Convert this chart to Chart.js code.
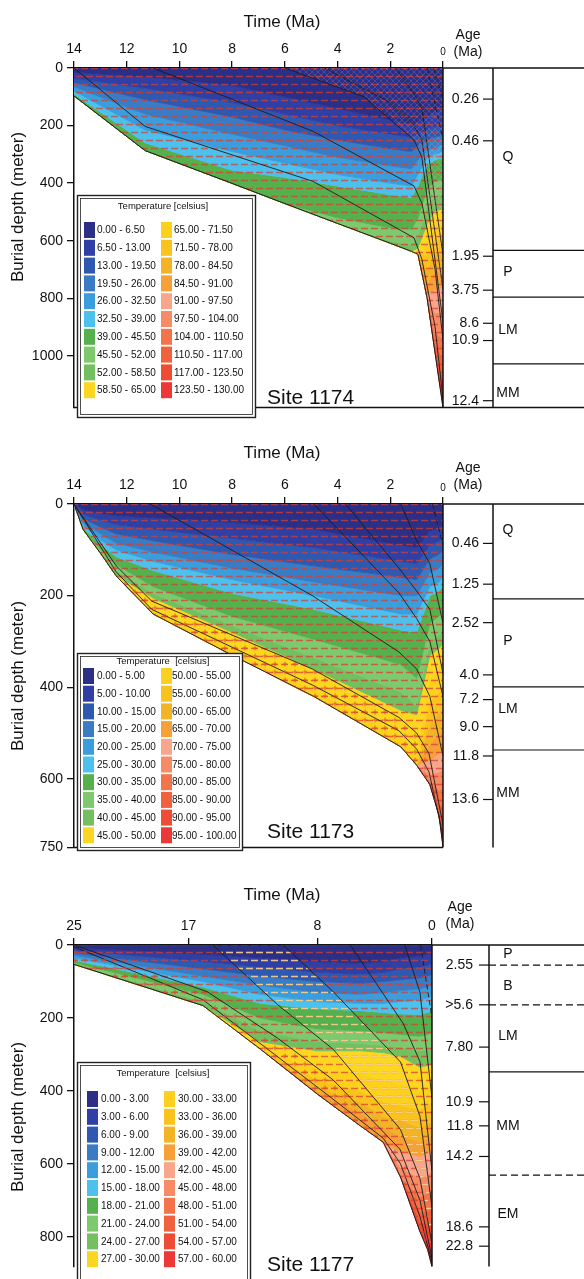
<!DOCTYPE html>
<html>
<head>
<meta charset="utf-8">
<script src="https://cdn.jsdelivr.net/npm/chart.js@4.4.1/dist/chart.umd.min.js"></script>
<style>
html, body { margin: 0; padding: 0; background: #fff; }
body { width: 584px; height: 1279px; position: relative; overflow: hidden; }
canvas { position: absolute; left: 0; }
</style>
</head>
<body>
<canvas id="site1174" width="584" height="420" style="top:0px"></canvas>
<canvas id="site1173" width="584" height="440" style="top:420px"></canvas>
<canvas id="site1177" width="584" height="419" style="top:860px"></canvas>
<script>
'use strict';

// ================================================================
//  Shared
// ================================================================
var FONT = '"Liberation Sans", Arial, Helvetica, sans-serif';
var tempColors = ['#2b2f86', '#2f3fa3', '#2f58b0', '#3a7cc3', '#3b9ddb', '#4dc0ec', '#56b04e', '#7ec86d', '#74bf60', '#fcd621',
                  '#fdd01e', '#f9c21c', '#f3b326', '#f6a038', '#f7a68c', '#f68b66', '#f3744b', '#f0613d', '#ee4c34', '#ec3837'];

// ================================================================
//  Site 1174  (time in Ma, depth in m)
// ================================================================
var xTicks1174 = [14, 12, 10, 8, 6, 4, 2, 0];
var yTicks1174 = [0, 200, 400, 600, 800, 1000];
var time1174 = [14, 11.3, 8, 6, 4, 2, 1.2, 0.95, 0.6, 0.3, 0];
var base1174 = [97, 287, 401, 471, 540, 609, 637, 647, 800, 990, 1180];
// isotherm depths, one row per band boundary (6.5, 13, ... 123.5 C)
var iso1174 = [
    [15, 30, 60, 100, 140, 180, 195, 190, 170, 150, 140],
    [35, 70, 120, 160, 200, 230, 240, 230, 215, 205, 200],
    [50, 110, 170, 215, 250, 280, 290, 270, 250, 240, 235],
    [65, 160, 230, 270, 310, 340, 350, 320, 285, 275, 265],
    [80, 215, 290, 330, 370, 400, 410, 370, 310, 300, 290],
    [90, 260, 355, 380, 410, 440, 450, 410, 335, 320, 310],
    [97, 287, 401, 471, 520, 555, 560, 520, 420, 395, 385],
    [97, 287, 401, 471, 540, 600, 615, 580, 480, 445, 435],
    [97, 287, 401, 471, 540, 609, 637, 625, 540, 495, 490],
    [97, 287, 401, 471, 540, 609, 637, 647, 600, 550, 540],
    [97, 287, 401, 471, 540, 609, 637, 647, 650, 600, 590],
    [97, 287, 401, 471, 540, 609, 637, 647, 700, 650, 640],
    [97, 287, 401, 471, 540, 609, 637, 647, 750, 705, 700],
    [97, 287, 401, 471, 540, 609, 637, 647, 790, 770, 760],
    [97, 287, 401, 471, 540, 609, 637, 647, 800, 850, 850],
    [97, 287, 401, 471, 540, 609, 637, 647, 800, 920, 940],
    [97, 287, 401, 471, 540, 609, 637, 647, 800, 960, 1010],
    [97, 287, 401, 471, 540, 609, 637, 647, 800, 980, 1080],
    [97, 287, 401, 471, 540, 609, 637, 647, 800, 988, 1130]
];
var bands1174 = ['0.00 - 6.50', '6.50 - 13.00', '13.00 - 19.50', '19.50 - 26.00', '26.00 - 32.50', '32.50 - 39.00',
                 '39.00 - 45.50', '45.50 - 52.00', '52.00 - 58.50', '58.50 - 65.00', '65.00 - 71.50', '71.50 - 78.00',
                 '78.00 - 84.50', '84.50 - 91.00', '91.00 - 97.50', '97.50 - 104.00', '104.00 - 110.50', '110.50 - 117.00',
                 '117.00 - 123.50', '123.50 - 130.00'];
// burial curves of horizons, [time, depth]
var lines1174 = [
    [[14, 0], [11.3, 203], [4.93, 394], [1.1, 590], [0.8, 665], [0.3, 900], [0, 1150]],
    [[11, 0], [4.93, 220], [1.1, 410], [0.8, 470], [0.3, 700], [0, 945]],
    [[6, 0], [3, 100], [1.1, 250], [0.8, 310], [0, 885]],
    [[4.5, 0], [2, 120], [1.1, 200], [0.8, 250], [0, 770]],
    [[1.8, 0], [1.1, 90], [0.8, 140], [0, 650]],
    [[0.6, 0], [0, 250]],
    [[0.35, 0], [0, 108]]
];
var ageText1174 = ['0.26', '0.46', '1.95', '3.75', '8.6', '10.9', '12.4'];
var ageDepth1174 = [108, 253, 654, 772, 887, 947, 1156];
var unitText1174 = ['Q', 'P', 'LM', 'MM'];
var unitMid1174 = [310, 708, 910, 1130];
var unitEdge1174 = [634, 796, 1028];
var unitDash1174 = [false, false, false];

// ================================================================
//  Site 1173
// ================================================================
var xTicks1173 = [14, 12, 10, 8, 6, 4, 2, 0];
var yTicks1173 = [0, 200, 400, 600, 750];
var time1173 = [14, 13.65, 13, 12.4, 11, 8, 4.9, 1.6, 1.0, 0.5, 0.15, 0];
var base1173 = [0, 56, 107, 157, 240, 330, 420, 530, 570, 612, 680, 748];
var iso1173 = [
    [0, 12, 20, 25, 30, 40, 55, 90, 95, 60, 50, 45],
    [0, 22, 35, 45, 55, 75, 95, 125, 130, 90, 80, 75],
    [0, 32, 50, 65, 80, 110, 135, 160, 165, 120, 110, 100],
    [0, 40, 65, 85, 105, 140, 170, 200, 200, 150, 140, 130],
    [0, 46, 78, 100, 125, 165, 200, 240, 240, 180, 170, 160],
    [0, 52, 88, 115, 145, 195, 230, 275, 280, 200, 190, 180],
    [0, 55, 98, 132, 180, 245, 295, 350, 380, 260, 245, 235],
    [0, 56, 104, 145, 195, 265, 335, 410, 440, 300, 285, 275],
    [0, 56, 107, 155, 205, 280, 360, 450, 460, 330, 315, 305],
    [0, 56, 107, 157, 230, 320, 405, 510, 545, 380, 360, 350],
    [0, 56, 107, 157, 240, 330, 420, 530, 570, 430, 410, 400],
    [0, 56, 107, 157, 240, 330, 420, 530, 570, 480, 455, 445],
    [0, 56, 107, 157, 240, 330, 420, 530, 570, 525, 500, 490],
    [0, 56, 107, 157, 240, 330, 420, 530, 570, 560, 545, 535],
    [0, 56, 107, 157, 240, 330, 420, 530, 570, 590, 585, 580],
    [0, 56, 107, 157, 240, 330, 420, 530, 570, 605, 625, 620],
    [0, 56, 107, 157, 240, 330, 420, 530, 570, 612, 655, 660],
    [0, 56, 107, 157, 240, 330, 420, 530, 570, 612, 675, 700],
    [0, 56, 107, 157, 240, 330, 420, 530, 570, 612, 680, 725]
];
var bands1173 = ['0.00 - 5.00', '5.00 - 10.00', '10.00 - 15.00', '15.00 - 20.00', '20.00 - 25.00', '25.00 - 30.00',
                 '30.00 - 35.00', '35.00 - 40.00', '40.00 - 45.00', '45.00 - 50.00', '50.00 - 55.00', '55.00 - 60.00',
                 '60.00 - 65.00', '65.00 - 70.00', '70.00 - 75.00', '75.00 - 80.00', '80.00 - 85.00', '85.00 - 90.00',
                 '90.00 - 95.00', '95.00 - 100.00'];
var lines1173 = [
    [[14, 0], [12.4, 135], [11.05, 212], [4.96, 360], [1.67, 466], [1.0, 500], [0.53, 545], [0, 700]],
    [[14, 0], [12.4, 148], [11.05, 230], [4.96, 395], [1.67, 495], [1.0, 535], [0.53, 585], [0, 725]],
    [[11.1, 0], [4.96, 200], [1.67, 323], [1.0, 360], [0.5, 420], [0, 550]],
    [[4.9, 0], [1.67, 194], [1.0, 250], [0.5, 300], [0, 420]],
    [[3.7, 0], [1.67, 140], [1.0, 190], [0.5, 230], [0, 370]],
    [[1.6, 0], [1.0, 80], [0.5, 130], [0, 260]],
    [[0.4, 0], [0, 90]]
];
var ageText1173 = ['0.46', '1.25', '2.52', '4.0', '7.2', '9.0', '11.8', '13.6'];
var ageDepth1173 = [86, 175, 259, 373, 427, 486, 550, 645];
var unitText1173 = ['Q', 'P', 'LM', 'MM'];
var unitMid1173 = [56, 300, 447, 632];
var unitEdge1173 = [207, 399, 537];
var unitDash1173 = [false, false, false];

// ================================================================
//  Site 1177
// ================================================================
var xTicks1177 = [25, 17, 8, 0];
var yTicks1177 = [0, 200, 400, 600, 800];
var time1177 = [25, 16, 12, 8, 5, 3.4, 2.2, 0.84, 0.3, 0];
var base1177 = [53, 166, 285, 409, 496, 541, 636, 786, 836, 882];
var iso1177 = [
    [8, 25, 35, 45, 50, 45, 35, 30, 25, 20],
    [15, 45, 60, 75, 80, 75, 65, 60, 55, 50],
    [22, 65, 85, 100, 105, 100, 95, 90, 85, 80],
    [28, 85, 110, 130, 135, 130, 125, 120, 115, 110],
    [35, 100, 135, 155, 160, 160, 155, 150, 145, 140],
    [42, 115, 160, 175, 180, 185, 189, 190, 185, 180],
    [48, 135, 200, 230, 235, 240, 245, 250, 245, 240],
    [52, 155, 235, 265, 270, 275, 280, 290, 285, 280],
    [53, 166, 265, 290, 290, 295, 305, 335, 330, 325],
    [53, 166, 285, 340, 350, 370, 380, 400, 390, 380],
    [53, 166, 285, 370, 400, 430, 440, 450, 440, 430],
    [53, 166, 285, 391, 430, 470, 480, 500, 490, 480],
    [53, 166, 285, 400, 460, 500, 523, 540, 530, 520],
    [53, 166, 285, 409, 496, 541, 567, 580, 570, 560],
    [53, 166, 285, 409, 496, 541, 610, 640, 630, 620],
    [53, 166, 285, 409, 496, 541, 636, 690, 680, 670],
    [53, 166, 285, 409, 496, 541, 636, 730, 730, 720],
    [53, 166, 285, 409, 496, 541, 636, 760, 770, 770],
    [53, 166, 285, 409, 496, 541, 636, 786, 810, 820]
];
var bands1177 = ['0.00 - 3.00', '3.00 - 6.00', '6.00 - 9.00', '9.00 - 12.00', '12.00 - 15.00', '15.00 - 18.00',
                 '18.00 - 21.00', '21.00 - 24.00', '24.00 - 27.00', '27.00 - 30.00', '30.00 - 33.00', '33.00 - 36.00',
                 '36.00 - 39.00', '39.00 - 42.00', '42.00 - 45.00', '45.00 - 48.00', '48.00 - 51.00', '51.00 - 54.00',
                 '54.00 - 57.00', '57.00 - 60.00'];
var lines1177 = [
    [[25, 0], [15.7, 128], [10.8, 255], [6.9, 370], [2.24, 560], [0.84, 700], [0, 860]],
    [[25, 5], [16, 150], [11, 300], [7, 420], [3.4, 530], [2.2, 600], [0.84, 745], [0, 870]],
    [[15.3, 0], [10.8, 163], [6.9, 286], [2.2, 506], [0.84, 640], [0, 820]],
    [[15.3, 0], [10.4, 0], [6.9, 128], [2.2, 321], [0.84, 470], [0, 720]],
    [[5.7, 0], [2.0, 216], [0.84, 320], [0, 620]],
    [[1.9, 0], [0.84, 130], [0, 420]],
    [[0.8, 0], [0, 200]]
];
var ageText1177 = ['2.55', '>5.6', '7.80', '10.9', '11.8', '14.2', '18.6', '22.8'];
var ageDepth1177 = [55, 164, 280, 430, 496, 580, 773, 826];
var unitText1177 = ['P', 'B', 'LM', 'MM', 'EM'];
var unitMid1177 = [26, 113, 251, 496, 739];
var unitEdge1177 = [55, 164, 348, 631];
var unitDash1177 = [true, true, false, true];

// ================================================================
//  Patterns (lithology hatching)
// ================================================================
function makeDashPattern(color) {
    var c = document.createElement('canvas');
    c.width = 20; c.height = 16;
    var g = c.getContext('2d');
    g.strokeStyle = color;
    g.lineWidth = 1.3;
    g.beginPath();
    g.moveTo(1, 4.5); g.lineTo(8, 4.5);
    g.moveTo(11, 4.5); g.lineTo(18, 4.5);
    g.moveTo(6, 12.5); g.lineTo(13, 12.5);
    g.moveTo(16, 12.5); g.lineTo(20, 12.5);
    g.moveTo(0, 12.5); g.lineTo(3, 12.5);
    g.stroke();
    return g.createPattern(c, 'repeat');
}

function makeHatchPattern() {
    var c = document.createElement('canvas');
    c.width = 6; c.height = 6;
    var g = c.getContext('2d');
    g.strokeStyle = 'rgba(225,190,210,0.3)';
    g.lineWidth = 0.6;
    g.beginPath();
    g.moveTo(0, 0); g.lineTo(6, 6);
    g.moveTo(6, 0); g.lineTo(0, 6);
    g.stroke();
    return g.createPattern(c, 'repeat');
}

function makeCrossPattern() {
    var c = document.createElement('canvas');
    c.width = 10; c.height = 8;
    var g = c.getContext('2d');
    g.strokeStyle = 'rgba(220,70,50,0.75)';
    g.lineWidth = 1;
    g.beginPath();
    g.moveTo(5, 1.5); g.lineTo(5, 6.5);
    g.moveTo(2.5, 4); g.lineTo(7.5, 4);
    g.stroke();
    return g.createPattern(c, 'repeat');
}

var dashPattern = makeDashPattern('rgba(214,62,50,0.72)');
var paleDashPattern = makeDashPattern('rgba(255,240,160,0.75)');
var hatchPattern = makeHatchPattern();
var crossPattern = makeCrossPattern();

function toPoints(times, depths) {
    return times.map(function (t, i) { return { x: t, y: depths[i] }; });
}

// ================================================================
//  Decorations: titles, legend box, age / stratigraphy column
// ================================================================
function drawDecor(chart, p) {
    var ctx = chart.ctx, a = chart.chartArea, ys = chart.scales.y, W = chart.width;
    function seg(x1, y1, x2, y2) { ctx.beginPath(); ctx.moveTo(x1, y1); ctx.lineTo(x2, y2); ctx.stroke(); }

    ctx.save();
    ctx.strokeStyle = '#111';
    ctx.fillStyle = '#111';
    ctx.lineWidth = 1.5;
    seg(a.right, a.top, a.right, a.bottom);
    seg(a.right, a.top, W, a.top);
    if (p.bottomTo) seg(a.left, a.bottom, p.bottomTo, a.bottom);
    seg(p.colX, a.top, p.colX, a.bottom);

    // age ticks
    ctx.lineWidth = 1.2;
    ctx.font = '14px ' + FONT;
    ctx.textAlign = 'right';
    ctx.textBaseline = 'middle';
    p.ageText.forEach(function (s, i) {
        var y = ys.getPixelForValue(p.ageDepth[i]);
        seg(p.colX - 10, y, p.colX, y);
        ctx.fillText(s, p.colX - p.ageGap, y);
    });
    p.unitEdge.forEach(function (d, i) {
        var y = ys.getPixelForValue(d);
        ctx.setLineDash(p.unitDash[i] ? [7, 4] : []);
        seg(p.colX, y, W, y);
    });
    ctx.setLineDash([]);
    ctx.textAlign = 'center';
    p.unitText.forEach(function (s, i) {
        ctx.fillText(s, 508, ys.getPixelForValue(p.unitMid[i]));
    });

    // headers
    ctx.fillText('Age', p.ageX, p.ageY);
    ctx.fillText('(Ma)', p.ageX, p.ageY + 17);
    ctx.font = '17px ' + FONT;
    ctx.fillText('Time (Ma)', 282, p.titleY);
    ctx.save();
    ctx.translate(18, p.yTitleY);
    ctx.rotate(-Math.PI / 2);
    ctx.fillText('Burial depth (meter)', 0, 0);
    ctx.restore();

    // legend
    var L = p.legend;
    ctx.fillStyle = '#fff';
    ctx.fillRect(L.x, L.y, L.w, L.h);
    ctx.strokeStyle = '#222';
    ctx.lineWidth = 1.4;
    ctx.strokeRect(L.x + 0.5, L.y + 0.5, L.w, L.h);
    ctx.lineWidth = 0.8;
    ctx.strokeRect(L.x + 3.5, L.y + 3.5, L.w - 6, L.h - 6);
    ctx.fillStyle = '#111';
    ctx.font = '9.5px ' + FONT;
    ctx.textAlign = 'center';
    ctx.fillText(p.legendTitle, L.titleX, L.y + L.titleDy);
    ctx.font = '10px ' + FONT;
    ctx.textAlign = 'left';
    p.bands.forEach(function (s, i) {
        var col = i < 10 ? 0 : 1;
        var y = L.y + L.rowDy + (i % 10) * L.rowH;
        ctx.fillStyle = tempColors[i];
        ctx.fillRect(L.sw[col], y - 8, 11, 16);
        ctx.fillStyle = '#111';
        ctx.fillText(s, L.tx[col], y + 0.5);
    });

    // site label
    ctx.font = '21px ' + FONT;
    ctx.fillText(p.site, 267, p.siteY);
    ctx.restore();
}

// ================================================================
//  Chart builder
// ================================================================
function makePanel(canvasId, p) {
    var datasets = [];
    var baseIndex = p.lines.length;
    p.lines.forEach(function (ln, i) {
        var f = p.fills[i];
        datasets.push({
            data: ln.map(function (q) { return { x: q[0], y: q[1] }; }),
            borderColor: '#1c1c1c',
            borderWidth: 0.9,
            borderDash: i >= p.dashFrom ? [5, 3] : [],
            pointRadius: 0,
            tension: 0,
            fill: f ? (f.to === 'base' ? baseIndex : f.to) : false,
            backgroundColor: f ? f.pattern : 'transparent'
        });
    });
    datasets.push({
        data: toPoints(p.time, p.base),
        borderColor: '#1c1c1c',
        borderWidth: 1,
        pointRadius: 0,
        fill: 'origin',
        backgroundColor: dashPattern
    });
    var first = datasets.length;
    p.iso.concat([p.base]).forEach(function (row, j) {
        datasets.push({
            data: toPoints(p.time, row),
            borderColor: tempColors[j],
            borderWidth: 1,
            pointRadius: 0,
            tension: 0,
            fill: j === 0 ? 'origin' : first + j - 1,
            backgroundColor: tempColors[j]
        });
    });

    return new Chart(document.getElementById(canvasId), {
        type: 'line',
        data: { datasets: datasets },
        options: {
            responsive: false,
            animation: false,
            devicePixelRatio: 1,
            events: [],
            layout: { padding: { left: 0, right: p.padRight, top: 0, bottom: p.padBottom } },
            plugins: { legend: { display: false }, tooltip: { enabled: false } },
            scales: {
                x: {
                    type: 'linear', position: 'top', reverse: true, min: 0, max: p.tMax,
                    afterBuildTicks: function (s) { s.ticks = p.xTicks.map(function (v) { return { value: v }; }); },
                    afterFit: function (s) { s.height = p.top; },
                    ticks: {
                        color: '#111', padding: 3, autoSkip: false, maxRotation: 0,
                        font: function (c) {
                            var small = p.smallZero && c.tick && c.tick.value === 0;
                            return { family: FONT, size: small ? 10 : 14 };
                        },
                        callback: function (v) { return String(v); }
                    },
                    grid: { drawOnChartArea: false, drawTicks: true, tickLength: 7, color: '#111', lineWidth: 1.3 },
                    border: { color: '#111', width: 1.5 }
                },
                y: {
                    type: 'linear', position: 'left', reverse: true, min: 0, max: p.dMax,
                    afterBuildTicks: function (s) { s.ticks = p.yTicks.map(function (v) { return { value: v }; }); },
                    afterFit: function (s) { s.width = 74; },
                    ticks: {
                        color: '#111', padding: 4, autoSkip: false,
                        font: { family: FONT, size: 14 },
                        callback: function (v) { return String(v); }
                    },
                    grid: { drawOnChartArea: false, drawTicks: true, tickLength: 7, color: '#111', lineWidth: 1.3 },
                    border: { color: '#111', width: 1.5 }
                }
            }
        },
        plugins: [{ id: 'decor', afterDraw: function (chart) { drawDecor(chart, p); } }]
    });
}

makePanel('site1174', {
    time: time1174, base: base1174, iso: iso1174, lines: lines1174, bands: bands1174,
    xTicks: xTicks1174, yTicks: yTicks1174, tMax: 14, dMax: 1180, smallZero: true,
    fills: { 2: { to: 'origin', pattern: hatchPattern } }, dashFrom: 5,
    ageText: ageText1174, ageDepth: ageDepth1174, unitText: unitText1174, unitMid: unitMid1174,
    unitEdge: unitEdge1174, unitDash: unitDash1174,
    top: 68, padRight: 141, padBottom: 2, colX: 493, ageGap: 14, bottomTo: 584,
    titleY: 22, ageX: 468, ageY: 35, yTitleY: 207, site: 'Site 1174', siteY: 398,
    legendTitle: 'Temperature [celsius]',
    legend: { x: 77, y: 195, w: 178, h: 222, titleX: 163, titleDy: 11, rowDy: 35, rowH: 17.8, sw: [84, 161], tx: [97, 174] }
});

makePanel('site1173', {
    time: time1173, base: base1173, iso: iso1173, lines: lines1173, bands: bands1173,
    xTicks: xTicks1173, yTicks: yTicks1173, tMax: 14, dMax: 750, smallZero: true,
    fills: { 0: { to: 'base', pattern: crossPattern } }, dashFrom: 6,
    ageText: ageText1173, ageDepth: ageDepth1173, unitText: unitText1173, unitMid: unitMid1173,
    unitEdge: unitEdge1173, unitDash: unitDash1173,
    top: 84, padRight: 141, padBottom: 9, colX: 493, ageGap: 14, bottomTo: 443,
    titleY: 33, ageX: 468, ageY: 48, yTitleY: 256, site: 'Site 1173', siteY: 412,
    legendTitle: 'Temperature  [celsius]',
    legend: { x: 77, y: 233, w: 165, h: 197, titleX: 163, titleDy: 8, rowDy: 23, rowH: 17.7, sw: [83, 161], tx: [97, 172] }
});

makePanel('site1177', {
    time: time1177, base: base1177, iso: iso1177, lines: lines1177, bands: bands1177,
    xTicks: xTicks1177, yTicks: yTicks1177, tMax: 25, dMax: 882, smallZero: false,
    fills: { 0: { to: 'base', pattern: crossPattern }, 3: { to: 2, pattern: paleDashPattern } }, dashFrom: 6,
    ageText: ageText1177, ageDepth: ageDepth1177, unitText: unitText1177, unitMid: unitMid1177,
    unitEdge: unitEdge1177, unitDash: unitDash1177,
    top: 85, padRight: 152, padBottom: 0, colX: 489, ageGap: 16, bottomTo: 0,
    titleY: 35, ageX: 460, ageY: 47, yTitleY: 257, site: 'Site 1177', siteY: 405,
    legendTitle: 'Temperature  [celsius]',
    legend: { x: 77, y: 202, w: 173, h: 230, titleX: 163, titleDy: 11, rowDy: 37, rowH: 17.8, sw: [87, 164], tx: [101, 178] }
});
</script>
</body>
</html>
